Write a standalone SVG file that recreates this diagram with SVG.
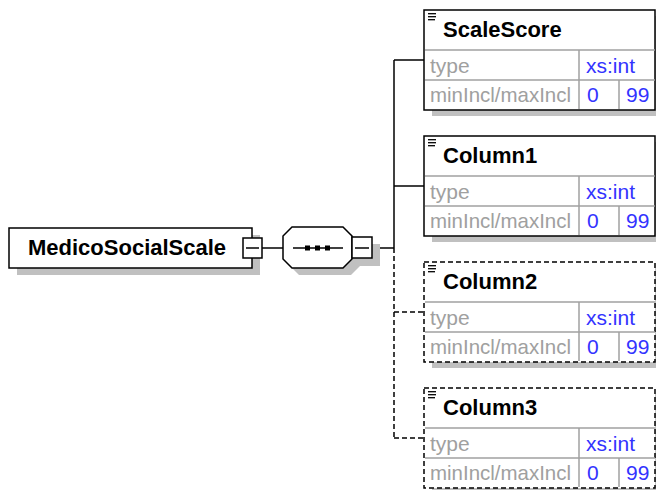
<svg xmlns="http://www.w3.org/2000/svg" width="656" height="490" viewBox="0 0 656 490">
<defs>
<style>
.bg{fill:#ffffff}
.shadow{fill:#c0c0c0;stroke:none}
.box{fill:#ffffff;stroke:#000000;stroke-width:1.5}
.dbox{fill:#ffffff;stroke:#000000;stroke-width:1.5;stroke-dasharray:5,3}
.grid{stroke:#a0a0a0;stroke-width:1.5;fill:none}
.line{stroke:#000000;stroke-width:1.5;fill:none}
.dline{stroke:#000000;stroke-width:1.5;fill:none;stroke-dasharray:5,3}
.icon{stroke:#000000;stroke-width:1.3}
.title{font-family:"Liberation Sans",Arial,sans-serif;font-weight:bold;font-size:22px;fill:#000000}
.lbl{font-family:"Liberation Sans",Arial,sans-serif;font-size:21px;fill:#a0a0a0}
.val{font-family:"Liberation Sans",Arial,sans-serif;font-size:21px;fill:#3333ff}
.btn{fill:#ffffff;stroke:#000000;stroke-width:1.5}
</style>
</defs>
<rect class="bg" x="0" y="0" width="656" height="490"/>

<g id="connectors">
<line class="line" x1="262" y1="248" x2="283" y2="248"/>
<line class="line" x1="373" y1="248" x2="394" y2="248"/>
<line class="line" x1="394" y1="60" x2="394" y2="248"/>
<line class="dline" x1="394" y1="248" x2="394" y2="438"/>
<line class="line" x1="394" y1="60" x2="424" y2="60"/>
<line class="line" x1="394" y1="186" x2="424" y2="186"/>
<line class="dline" x1="394" y1="312" x2="424" y2="312"/>
<line class="dline" x1="394" y1="438" x2="424" y2="438"/>
</g>

<g id="MedicoSocialScale">
<rect class="shadow" x="17" y="235" width="243" height="40"/>
<rect class="box" x="9" y="228" width="243" height="40"/>
<text class="title" x="28" y="255">MedicoSocialScale</text>
<rect class="btn" x="243" y="238" width="19" height="20"/>
<line class="line" x1="246" y1="248" x2="259" y2="248"/>
</g>

<g id="sequence">
<polygon class="shadow" points="299,234 351,234 360,243 360,266 351,275 299,275 290,266 290,243"/>
<rect class="shadow" x="359" y="244" width="21" height="22"/>
<polygon class="box" points="292,227 343,227 352,236 352,259 343,268 292,268 283,259 283,236"/>
<line class="line" x1="293" y1="248" x2="343" y2="248"/>
<rect x="305" y="245.5" width="5" height="5" fill="#000"/>
<rect x="315" y="245.5" width="5" height="5" fill="#000"/>
<rect x="325" y="245.5" width="5" height="5" fill="#000"/>
<rect class="btn" x="352" y="237" width="20" height="21"/>
<line class="line" x1="355" y1="248" x2="369" y2="248"/>
</g>

<g id="ScaleScore">
<rect class="shadow" x="432" y="16" width="240" height="100"/>
<rect class="box" x="424" y="10" width="231" height="100"/>
<line class="icon" x1="428" y1="13.7" x2="436" y2="13.7"/>
<line class="icon" x1="428" y1="16.7" x2="436" y2="16.7"/>
<line class="icon" x1="428" y1="19.7" x2="435" y2="19.7"/>
<text class="title" x="443" y="37">ScaleScore</text>
<line class="grid" x1="425" y1="50" x2="655" y2="50"/>
<line class="grid" x1="425" y1="80" x2="655" y2="80"/>
<line class="grid" x1="579" y1="50" x2="579" y2="109"/>
<line class="grid" x1="619" y1="80" x2="619" y2="109"/>
<text class="lbl" x="430" y="73">type</text>
<text class="val" x="586" y="73">xs:int</text>
<text class="lbl" x="430" y="102" textLength="141" lengthAdjust="spacingAndGlyphs">minIncl/maxIncl</text>
<text class="val" x="587" y="102">0</text>
<text class="val" x="626" y="102">99</text>
</g>

<g id="Column1">
<rect class="shadow" x="432" y="142" width="240" height="100"/>
<rect class="box" x="424" y="136" width="231" height="100"/>
<line class="icon" x1="428" y1="139.7" x2="436" y2="139.7"/>
<line class="icon" x1="428" y1="142.7" x2="436" y2="142.7"/>
<line class="icon" x1="428" y1="145.7" x2="435" y2="145.7"/>
<text class="title" x="443" y="163">Column1</text>
<line class="grid" x1="425" y1="176" x2="655" y2="176"/>
<line class="grid" x1="425" y1="206" x2="655" y2="206"/>
<line class="grid" x1="579" y1="176" x2="579" y2="235"/>
<line class="grid" x1="619" y1="206" x2="619" y2="235"/>
<text class="lbl" x="430" y="199">type</text>
<text class="val" x="586" y="199">xs:int</text>
<text class="lbl" x="430" y="228" textLength="141" lengthAdjust="spacingAndGlyphs">minIncl/maxIncl</text>
<text class="val" x="587" y="228">0</text>
<text class="val" x="626" y="228">99</text>
</g>

<g id="Column2">
<rect class="shadow" x="432" y="268" width="240" height="100"/>
<rect class="dbox" x="424" y="262" width="231" height="100"/>
<line class="icon" x1="428" y1="265.7" x2="436" y2="265.7"/>
<line class="icon" x1="428" y1="268.7" x2="436" y2="268.7"/>
<line class="icon" x1="428" y1="271.7" x2="435" y2="271.7"/>
<text class="title" x="443" y="289">Column2</text>
<line class="grid" x1="425" y1="302" x2="655" y2="302"/>
<line class="grid" x1="425" y1="332" x2="655" y2="332"/>
<line class="grid" x1="579" y1="302" x2="579" y2="361"/>
<line class="grid" x1="619" y1="332" x2="619" y2="361"/>
<text class="lbl" x="430" y="325">type</text>
<text class="val" x="586" y="325">xs:int</text>
<text class="lbl" x="430" y="354" textLength="141" lengthAdjust="spacingAndGlyphs">minIncl/maxIncl</text>
<text class="val" x="587" y="354">0</text>
<text class="val" x="626" y="354">99</text>
</g>

<g id="Column3">
<rect class="shadow" x="432" y="394" width="240" height="100"/>
<rect class="dbox" x="424" y="388" width="231" height="100"/>
<line class="icon" x1="428" y1="391.7" x2="436" y2="391.7"/>
<line class="icon" x1="428" y1="394.7" x2="436" y2="394.7"/>
<line class="icon" x1="428" y1="397.7" x2="435" y2="397.7"/>
<text class="title" x="443" y="415">Column3</text>
<line class="grid" x1="425" y1="428" x2="655" y2="428"/>
<line class="grid" x1="425" y1="458" x2="655" y2="458"/>
<line class="grid" x1="579" y1="428" x2="579" y2="487"/>
<line class="grid" x1="619" y1="458" x2="619" y2="487"/>
<text class="lbl" x="430" y="451">type</text>
<text class="val" x="586" y="451">xs:int</text>
<text class="lbl" x="430" y="480" textLength="141" lengthAdjust="spacingAndGlyphs">minIncl/maxIncl</text>
<text class="val" x="587" y="480">0</text>
<text class="val" x="626" y="480">99</text>
</g>
</svg>
